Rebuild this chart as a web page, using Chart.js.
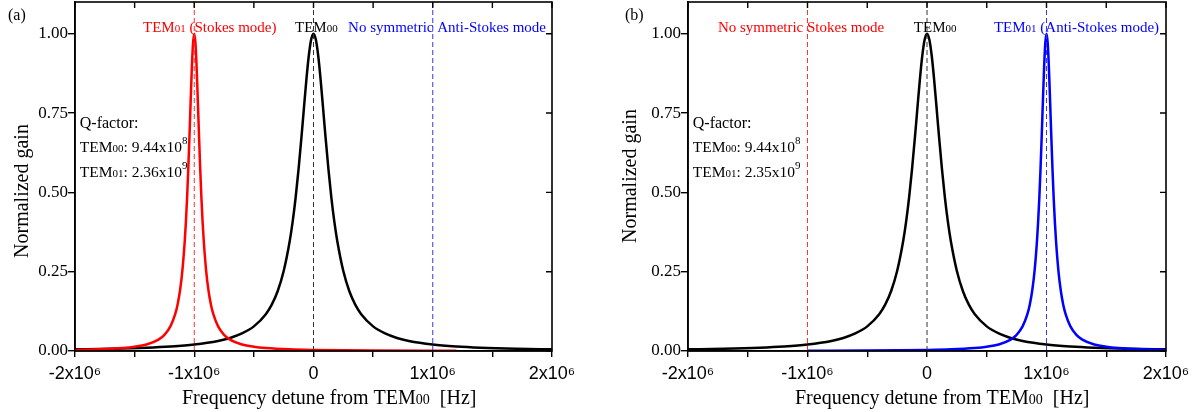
<!DOCTYPE html>
<html>
<head>
<meta charset="utf-8">
<script src="https://cdn.jsdelivr.net/npm/chart.js@4/dist/chart.umd.min.js"></script>
<style>
  html, body { margin: 0; padding: 0; background: #fff; }
  body { width: 1204px; height: 412px; position: relative; overflow: hidden; }
  .panel { position: absolute; top: 0; height: 412px; }
  #panelA { left: 0; width: 600px; }
  #panelB { left: 613px; width: 591px; }
</style>
</head>
<body>
<div class="panel" id="panelA"><canvas id="chartA"></canvas></div>
<div class="panel" id="panelB"><canvas id="chartB"></canvas></div>
<script>
// frequency detune from TEM00 in Hz, gain normalised to its own peak
const tem00X = [-2e6, -1.7e6, -1.4e6, -1.2e6, -1e6, -8e5, -7e5, -6e5, -5e5, -4e5, -3.5e5, -3e5, -2.5e5, -2e5, -1.75e5, -1.5e5, -1.25e5, -1e5, -8e4, -6e4, -4e4, -2e4,
  0, 2e4, 4e4, 6e4, 8e4, 1e5, 1.25e5, 1.5e5, 1.75e5, 2e5, 2.5e5, 3e5, 3.5e5, 4e5, 5e5, 6e5, 7e5, 8e5, 1e6, 1.2e6, 1.4e6, 1.7e6, 2e6];
const tem00Y = [0.0052, 0.0072, 0.0106, 0.0144, 0.0206, 0.0318, 0.0411, 0.0552, 0.0776, 0.116, 0.146, 0.189, 0.252, 0.345, 0.407, 0.483, 0.574, 0.678, 0.767, 0.854, 0.929, 0.981,
  1, 0.981, 0.929, 0.854, 0.767, 0.678, 0.574, 0.483, 0.407, 0.345, 0.252, 0.189, 0.146, 0.116, 0.0776, 0.0552, 0.0411, 0.0318, 0.0206, 0.0144, 0.0106, 0.0072, 0.0052];

// (a) TEM01 Stokes mode at -1 MHz
const stokesX = [-2e6, -1.8e6, -1.6e6, -1.5e6, -1.4e6, -1.3e6, -1.25e6, -1.2e6, -1.16e6, -1.14e6, -1.12e6, -1.1e6, -1.08e6, -1.07e6, -1.06e6, -1.05e6, -1.04e6, -1.03e6, -1.02e6, -1.01e6,
  -1e6, -0.99e6, -0.98e6, -0.97e6, -0.96e6, -0.95e6, -0.94e6, -0.93e6, -0.92e6, -0.9e6, -0.88e6, -0.86e6, -0.84e6, -0.8e6, -0.75e6, -0.7e6, -0.6e6, -0.5e6, -0.4e6, -0.2e6, 0, 0.5e6, 1.2e6];
const stokesY = [0.0034, 0.0052, 0.0093, 0.0133, 0.0206, 0.036, 0.0511, 0.0776, 0.116, 0.146, 0.189, 0.252, 0.345, 0.407, 0.483, 0.574, 0.678, 0.789, 0.894, 0.971,
  1, 0.971, 0.894, 0.789, 0.678, 0.574, 0.483, 0.407, 0.345, 0.252, 0.189, 0.146, 0.116, 0.0776, 0.0511, 0.036, 0.0206, 0.0133, 0.0093, 0.0052, 0.0034, 0.0015, 0.0007];

// (b) TEM01 anti-Stokes mode at +1 MHz
const antiStokesX = [-1e6, -0.5e6, 0, 0.2e6, 0.4e6, 0.5e6, 0.6e6, 0.7e6, 0.75e6, 0.8e6, 0.84e6, 0.86e6, 0.88e6, 0.9e6, 0.92e6, 0.93e6, 0.94e6, 0.95e6, 0.96e6, 0.97e6, 0.98e6, 0.99e6,
  1e6, 1.01e6, 1.02e6, 1.03e6, 1.04e6, 1.05e6, 1.06e6, 1.07e6, 1.08e6, 1.1e6, 1.12e6, 1.14e6, 1.16e6, 1.2e6, 1.25e6, 1.3e6, 1.4e6, 1.5e6, 1.6e6, 1.8e6, 2e6];
const antiStokesY = [0.0008, 0.0015, 0.0034, 0.0052, 0.0093, 0.0133, 0.0206, 0.036, 0.0511, 0.0776, 0.116, 0.146, 0.189, 0.252, 0.345, 0.407, 0.483, 0.574, 0.678, 0.789, 0.894, 0.971,
  1, 0.971, 0.894, 0.789, 0.678, 0.574, 0.483, 0.407, 0.345, 0.252, 0.189, 0.146, 0.116, 0.0776, 0.0511, 0.036, 0.0206, 0.0133, 0.0093, 0.0052, 0.0034];

// mode positions (dashed markers)
const stokesPos = -1e6;
const tem00Pos = 0;
const antiStokesPos = 1e6;

const xTickValues = [-2e6, -1.5e6, -1e6, -0.5e6, 0, 0.5e6, 1e6, 1.5e6, 2e6];
const xTickLabels = ['-2x10⁶', '', '-1x10⁶', '', '0', '', '1x10⁶', '', '2x10⁶'];
const yTickValues = [0, 0.25, 0.5, 0.75, 1];

const SERIF = "'Liberation Serif', 'Times New Roman', serif";
const SANS = "'Liberation Sans', Arial, sans-serif";

const toPts = (xs, ys) => xs.map((x, i) => ({ x: x, y: ys[i] }));

function curve(xs, ys, color) {
    return {
        data: toPts(xs, ys),
        borderColor: color,
        borderWidth: 2.5,
        pointRadius: 0,
        cubicInterpolationMode: 'monotone',
        fill: false
    };
}

function marker(pos, color) {
    return {
        data: [{ x: pos, y: 0 }, { x: pos, y: 1.1 }],
        borderColor: color,
        borderWidth: 1,
        borderDash: [5, 3],
        pointRadius: 0
    };
}

function drawRuns(ctx, runs, x, y, color) {
    ctx.save();
    ctx.fillStyle = color;
    ctx.textAlign = 'left';
    ctx.textBaseline = 'alphabetic';
    let cx = x;
    runs.forEach(r => {
        ctx.font = r[1] + 'px ' + (r[3] || SERIF);
        ctx.fillText(r[0], cx, y + (r[2] || 0));
        cx += ctx.measureText(r[0]).width;
    });
    ctx.restore();
}

function runsWidth(ctx, runs) {
    let w = 0;
    runs.forEach(r => {
        ctx.font = r[1] + 'px ' + (r[3] || SERIF);
        w += ctx.measureText(r[0]).width;
    });
    return w;
}

// frame, inward mirror ticks, texts
const decorPlugin = {
    id: 'decor',
    afterDraw(chart, args, opts) {
        const ctx = chart.ctx;
        const a = chart.chartArea;
        const xs = chart.scales.x, ys = chart.scales.y;
        ctx.save();
        ctx.strokeStyle = '#000';
        ctx.lineWidth = 1.6;
        ctx.strokeRect(a.left, a.top, a.right - a.left, a.bottom - a.top);
        ctx.lineWidth = 1.4;
        ctx.beginPath();
        xTickValues.forEach(v => {
            const px = xs.getPixelForValue(v);
            ctx.moveTo(px, a.top);
            ctx.lineTo(px, a.top + 6);
        });
        yTickValues.forEach(v => {
            const py = ys.getPixelForValue(v);
            ctx.moveTo(a.right, py);
            ctx.lineTo(a.right - 6, py);
        });
        ctx.stroke();
        ctx.restore();

        opts.notes.forEach(n => {
            drawRuns(ctx, n.runs, xs.getPixelForValue(n.x), ys.getPixelForValue(n.y), n.color);
        });

        drawRuns(ctx, [[opts.tag, 16]], opts.tagX, 20, '#000');

        const xt = [['Frequency detune from TEM', 20], ['00', 14], ['  [Hz]', 20]];
        drawRuns(ctx, xt, a.left + 107, 404, '#000');

        const yt = [['Normalized gain', 20]];
        ctx.save();
        ctx.translate(opts.yTitleX, opts.yTitleY);
        ctx.rotate(-Math.PI / 2);
        drawRuns(ctx, yt, -runsWidth(ctx, yt) / 2, 0, '#000');
        ctx.restore();
    }
};

function makeChart(id, datasets, padRight, panel) {
    return new Chart(document.getElementById(id), {
        type: 'line',
        data: { datasets: datasets },
        options: {
            responsive: true,
            maintainAspectRatio: false,
            animation: false,
            layout: { padding: { top: 2, right: padRight, left: 0, bottom: 0 } },
            plugins: {
                legend: { display: false },
                tooltip: { enabled: false },
                decor: panel
            },
            scales: {
                x: {
                    type: 'linear',
                    min: -2e6,
                    max: 2e6,
                    afterBuildTicks: s => { s.ticks = xTickValues.map(v => ({ value: v })); },
                    afterFit: s => { s.height = 61; s.paddingLeft = 0; s.paddingRight = 0; },
                    ticks: {
                        autoSkip: false,
                        maxRotation: 0,
                        padding: 6,
                        color: '#000',
                        font: { family: SANS, size: 18 },
                        callback: (v, i) => xTickLabels[i]
                    },
                    grid: { drawOnChartArea: false, drawTicks: true, tickLength: 6, color: '#000', lineWidth: 1.4 },
                    border: { display: true, color: '#000', width: 1.6 }
                },
                y: {
                    type: 'linear',
                    min: 0,
                    max: 1.1,
                    afterBuildTicks: s => { s.ticks = yTickValues.map(v => ({ value: v })); },
                    afterFit: s => { s.width = 75; s.paddingTop = 0; s.paddingBottom = 0; },
                    ticks: {
                        padding: 0,
                        color: '#000',
                        font: { family: SERIF, size: 17 },
                        callback: v => v.toFixed(2)
                    },
                    grid: { drawOnChartArea: false, drawTicks: true, tickLength: 7, color: '#000', lineWidth: 1.4 },
                    border: { display: true, color: '#000', width: 1.6 }
                }
            }
        },
        plugins: [decorPlugin]
    });
}

const RED = '#ff0000', BLUE = '#0000ff', BLACK = '#000000';

makeChart('chartA', [
    marker(stokesPos, '#ff3030'),
    marker(tem00Pos, '#333333'),
    marker(antiStokesPos, '#3535ff'),
    curve(stokesX, stokesY, RED),
    curve(tem00X, tem00Y, BLACK)
], 48, {
    tag: '(a)', tagX: 8, yTitleX: 28, yTitleY: 191,
    notes: [
        { x: -1.43e6, y: 1.006, color: RED, runs: [['TEM', 15], ['01', 11], [' (Stokes mode)', 15]] },
        { x: -0.155e6, y: 1.006, color: BLACK, runs: [['TEM', 15], ['00', 11]] },
        { x: 0.29e6, y: 1.006, color: BLUE, runs: [['No symmetric Anti-Stokes mode', 15]] },
        { x: -1.96e6, y: 0.704, color: BLACK, runs: [['Q-factor:', 16]] },
        { x: -1.96e6, y: 0.626, color: BLACK, runs: [['TEM', 15.5], ['00', 11], [': 9.44x10', 15.5], ['8', 11, -8]] },
        { x: -1.96e6, y: 0.55, color: BLACK, runs: [['TEM', 15.5], ['01', 11], [': 2.36x10', 15.5], ['9', 11, -8]] }
    ]
});

makeChart('chartB', [
    marker(stokesPos, '#ff3030'),
    marker(tem00Pos, '#333333'),
    marker(antiStokesPos, '#3535ff'),
    curve(antiStokesX, antiStokesY, BLUE),
    curve(tem00X, tem00Y, BLACK)
], 38, {
    tag: '(b)', tagX: 12, yTitleX: 23, yTitleY: 176,
    notes: [
        { x: -1.75e6, y: 1.006, color: RED, runs: [['No symmetric Stokes mode', 15]] },
        { x: -0.11e6, y: 1.006, color: BLACK, runs: [['TEM', 15], ['00', 11]] },
        { x: 0.56e6, y: 1.006, color: BLUE, runs: [['TEM', 15], ['01', 11], [' (Anti-Stokes mode)', 15]] },
        { x: -1.96e6, y: 0.704, color: BLACK, runs: [['Q-factor:', 16]] },
        { x: -1.96e6, y: 0.626, color: BLACK, runs: [['TEM', 15.5], ['00', 11], [': 9.44x10', 15.5], ['8', 11, -8]] },
        { x: -1.96e6, y: 0.55, color: BLACK, runs: [['TEM', 15.5], ['01', 11], [': 2.35x10', 15.5], ['9', 11, -8]] }
    ]
});
</script>
</body>
</html>
